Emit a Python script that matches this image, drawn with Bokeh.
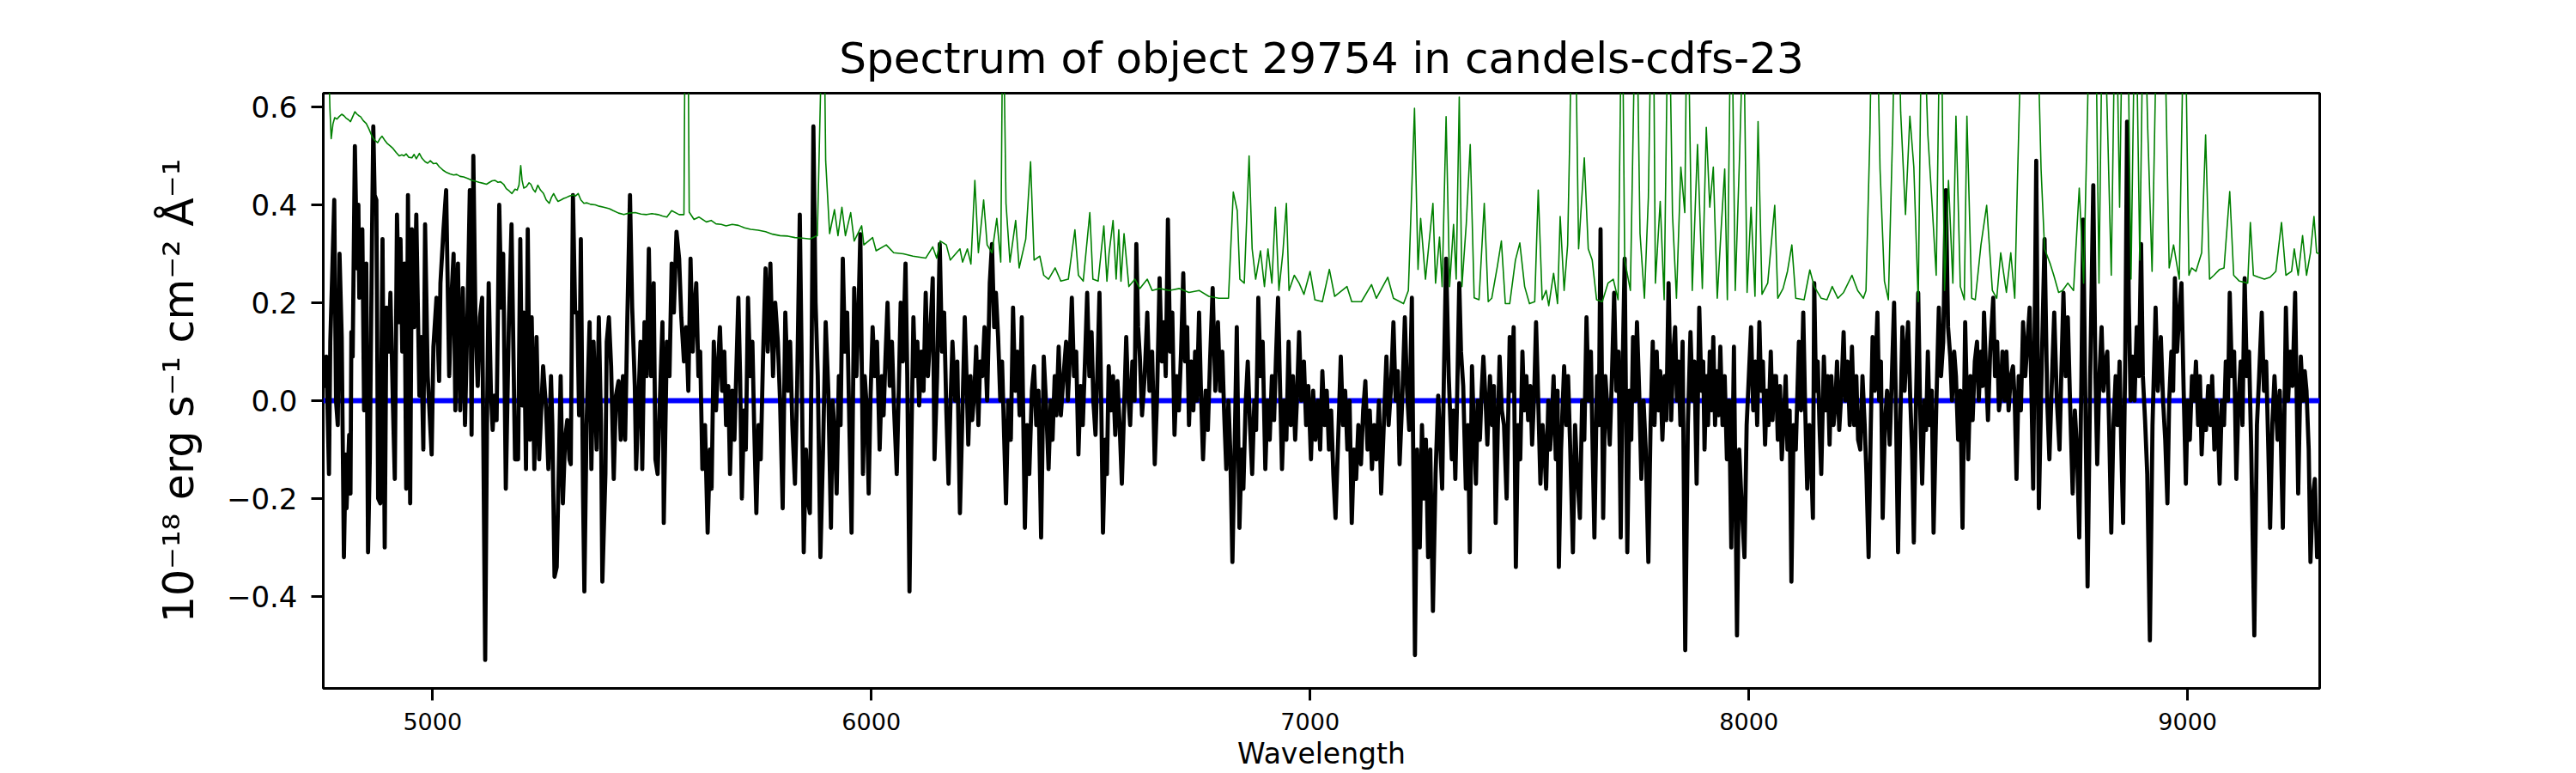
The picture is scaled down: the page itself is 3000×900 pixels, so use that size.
import numpy as np
from bokeh.plotting import figure
from bokeh.models import Range1d, FixedTicker, Span
from bokeh.embed import file_html
from bokeh.resources import INLINE

title_text = "Spectrum of object 29754 in candels-cdfs-23"
x_label = "Wavelength"
y_label = "10⁻¹⁸ erg s⁻¹ cm⁻² Å⁻¹"
x_ticks = [5000, 6000, 7000, 8000, 9000]
y_ticks = [-0.4, -0.2, 0.0, 0.2, 0.4, 0.6]
y_tick_labels = ["−0.4", "−0.2", "0.0", "0.2", "0.4", "0.6"]
x_lim = (4751, 9301)
y_lim = (-0.588, 0.628)
zero_level = 0.0

# observed flux (wavelength, flux)
flux_points = [
    (4751, 0.09), (4754, 0.03), (4758, 0.09), (4764, -0.15), (4767, 0.12), (4776, 0.41), (4780, 0.00),
    (4784, -0.05), (4788, 0.30), (4793, 0.13), (4798, -0.32), (4802, -0.11), (4804, -0.22), (4810, -0.07),
    (4813, -0.19), (4815, 0.14), (4818, 0.09), (4823, 0.52), (4828, 0.27), (4831, 0.40), (4833, 0.21),
    (4836, 0.30), (4840, 0.35), (4844, -0.02), (4849, 0.28), (4853, -0.31), (4857, -0.12), (4862, 0.33),
    (4865, 0.56), (4868, 0.42), (4872, 0.41), (4876, -0.20), (4881, -0.21), (4886, 0.33), (4891, -0.30),
    (4895, 0.19), (4900, 0.10), (4904, 0.22), (4910, -0.02), (4914, -0.16), (4919, 0.38), (4924, 0.16),
    (4927, 0.33), (4931, 0.10), (4936, 0.28), (4940, -0.18), (4944, 0.42), (4949, -0.21), (4953, 0.35),
    (4958, 0.15), (4963, 0.38), (4970, 0.01), (4974, 0.13), (4979, -0.10), (4983, 0.36), (4989, 0.05),
    (4998, -0.11), (5002, 0.11), (5009, 0.21), (5015, 0.04), (5018, 0.24), (5025, 0.35), (5031, 0.43),
    (5038, 0.05), (5043, 0.21), (5048, 0.30), (5052, -0.02), (5058, 0.28), (5063, -0.02), (5069, 0.23),
    (5074, -0.05), (5080, 0.19), (5085, 0.43), (5089, -0.07), (5093, 0.50), (5098, 0.15), (5103, 0.03),
    (5108, 0.17), (5113, 0.21), (5120, -0.53), (5124, -0.05), (5128, 0.24), (5133, 0.02), (5137, -0.06),
    (5141, 0.01), (5146, -0.04), (5152, 0.40), (5157, 0.19), (5161, 0.30), (5167, -0.18), (5174, 0.16),
    (5180, 0.36), (5188, -0.12), (5195, -0.12), (5200, 0.33), (5204, -0.01), (5208, 0.18), (5213, -0.14),
    (5217, 0.35), (5222, -0.08), (5226, 0.17), (5232, -0.14), (5237, 0.13), (5243, -0.12), (5252, 0.07),
    (5259, -0.02), (5264, -0.14), (5270, 0.05), (5273, -0.05), (5278, -0.36), (5283, -0.34), (5287, -0.17),
    (5292, 0.05), (5297, -0.21), (5302, -0.08), (5307, -0.04), (5312, -0.12), (5315, -0.13), (5320, 0.42),
    (5325, 0.18), (5330, 0.18), (5334, -0.03), (5338, 0.33), (5343, -0.19), (5346, -0.39), (5351, -0.05),
    (5358, 0.16), (5362, -0.14), (5367, 0.12), (5374, -0.10), (5379, 0.17), (5384, -0.05), (5387, -0.37),
    (5394, -0.15), (5397, 0.12), (5402, 0.17), (5407, 0.07), (5413, -0.16), (5418, 0.01), (5424, 0.04),
    (5429, -0.08), (5434, 0.05), (5439, -0.08), (5444, 0.17), (5450, 0.42), (5455, 0.19), (5461, 0.03),
    (5464, -0.14), (5469, -0.01), (5474, 0.12), (5478, -0.14), (5483, 0.16), (5488, 0.05), (5493, 0.31),
    (5498, 0.05), (5504, 0.24), (5508, -0.12), (5513, -0.15), (5517, -0.03), (5524, 0.16), (5527, -0.25),
    (5534, 0.12), (5540, 0.05), (5545, 0.28), (5550, 0.18), (5556, 0.345), (5562, 0.29), (5567, 0.17),
    (5573, 0.08), (5578, 0.15), (5583, 0.02), (5588, 0.29), (5593, 0.10), (5597, 0.19), (5601, 0.24),
    (5606, 0.05), (5610, 0.10), (5615, -0.14), (5621, -0.05), (5627, -0.27), (5632, -0.10), (5636, -0.18),
    (5641, 0.12), (5646, -0.02), (5650, 0.06), (5655, 0.15), (5660, 0.02), (5665, 0.10), (5669, -0.05),
    (5674, 0.03), (5678, -0.15), (5683, 0.02), (5688, -0.08), (5692, 0.05), (5697, 0.21), (5701, 0.05),
    (5705, -0.20), (5710, -0.02), (5714, -0.10), (5719, 0.21), (5724, 0.05), (5729, 0.12), (5733, -0.05),
    (5738, -0.23), (5743, -0.05), (5748, -0.12), (5753, 0.08), (5759, 0.27), (5764, 0.10), (5770, 0.28),
    (5776, 0.05), (5781, 0.20), (5787, 0.12), (5792, 0.00), (5798, -0.22), (5804, 0.18), (5810, 0.02),
    (5815, 0.12), (5820, -0.05), (5826, -0.17), (5831, 0.03), (5837, 0.38), (5841, 0.10), (5846, -0.31),
    (5851, -0.10), (5855, -0.20), (5860, -0.23), (5864, 0.10), (5868, 0.56), (5873, 0.20), (5878, 0.05),
    (5884, -0.32), (5890, -0.10), (5896, 0.16), (5902, 0.02), (5908, -0.26), (5912, 0.00), (5917, -0.08),
    (5921, -0.19), (5926, 0.05), (5930, -0.05), (5935, 0.29), (5940, 0.10), (5945, 0.18), (5950, -0.05),
    (5955, -0.27), (5961, 0.23), (5966, 0.05), (5970, 0.15), (5975, 0.34), (5981, -0.15), (5985, 0.05),
    (5990, -0.02), (5994, -0.19), (5998, 0.00), (6003, 0.15), (6008, 0.05), (6013, 0.12), (6019, -0.10),
    (6024, 0.05), (6028, -0.03), (6032, 0.08), (6037, 0.20), (6042, 0.03), (6047, 0.12), (6052, -0.02),
    (6058, -0.15), (6062, 0.00), (6067, 0.20), (6072, 0.08), (6078, 0.28), (6082, 0.05), (6087, -0.39),
    (6091, -0.10), (6096, 0.17), (6100, 0.05), (6105, 0.12), (6109, -0.01), (6114, 0.10), (6119, 0.02),
    (6124, 0.22), (6129, 0.05), (6134, 0.13), (6140, 0.25), (6144, -0.12), (6150, 0.05), (6156, 0.32),
    (6161, 0.10), (6166, 0.18), (6171, -0.02), (6176, -0.17), (6180, -0.02), (6185, 0.12), (6191, 0.00),
    (6196, 0.08), (6202, -0.23), (6207, -0.05), (6213, 0.17), (6217, 0.05), (6221, -0.09), (6226, 0.05),
    (6230, -0.04), (6235, 0.02), (6239, 0.11), (6244, -0.05), (6248, 0.08), (6253, 0.05), (6258, 0.15),
    (6264, 0.00), (6270, 0.24), (6275, 0.32), (6280, 0.15), (6284, 0.22), (6289, 0.13), (6294, 0.00),
    (6298, 0.08), (6302, -0.05), (6307, -0.21), (6312, 0.00), (6318, -0.08), (6323, 0.19), (6328, 0.02),
    (6333, 0.10), (6338, -0.03), (6343, 0.17), (6350, -0.26), (6355, -0.05), (6360, -0.15), (6366, 0.02),
    (6371, 0.07), (6376, -0.05), (6381, 0.02), (6387, -0.28), (6393, 0.09), (6398, 0.00), (6404, -0.14),
    (6409, 0.00), (6413, -0.08), (6418, 0.05), (6422, -0.03), (6427, 0.11), (6432, -0.03), (6438, 0.05),
    (6444, 0.12), (6448, 0.00), (6452, 0.08), (6457, 0.21), (6462, 0.05), (6467, 0.10), (6472, -0.11),
    (6477, 0.03), (6482, -0.05), (6487, 0.08), (6492, 0.22), (6497, 0.05), (6502, 0.14), (6506, 0.00),
    (6511, -0.07), (6515, 0.05), (6520, 0.22), (6524, 0.00), (6528, -0.27), (6533, -0.08), (6537, -0.15),
    (6541, 0.07), (6546, -0.02), (6551, 0.05), (6556, -0.07), (6561, 0.04), (6566, -0.05), (6571, -0.17),
    (6576, -0.02), (6581, 0.13), (6585, 0.02), (6590, -0.05), (6595, 0.08), (6600, 0.00), (6604, 0.32),
    (6608, 0.15), (6612, 0.09), (6617, -0.03), (6623, 0.05), (6629, 0.18), (6634, 0.02), (6640, 0.10),
    (6646, -0.13), (6651, 0.00), (6657, 0.25), (6662, 0.08), (6667, 0.16), (6671, 0.05), (6676, 0.37),
    (6681, 0.10), (6686, 0.18), (6691, -0.07), (6696, 0.05), (6701, -0.02), (6706, 0.10), (6711, 0.26),
    (6715, 0.08), (6720, 0.15), (6724, -0.05), (6729, 0.08), (6734, -0.02), (6738, 0.10), (6742, 0.00),
    (6747, 0.18), (6751, 0.03), (6756, -0.12), (6762, 0.02), (6767, -0.06), (6772, 0.08), (6778, 0.23),
    (6784, 0.02), (6790, 0.16), (6795, 0.02), (6800, 0.10), (6804, -0.02), (6809, -0.14), (6814, 0.00),
    (6818, -0.10), (6823, -0.33), (6828, -0.10), (6833, 0.15), (6839, -0.26), (6844, -0.10), (6848, -0.18),
    (6853, -0.01), (6858, 0.08), (6863, -0.05), (6868, -0.15), (6873, 0.00), (6877, -0.06), (6882, 0.21),
    (6887, 0.05), (6892, 0.12), (6898, -0.14), (6903, 0.00), (6908, -0.08), (6913, 0.05), (6918, -0.04),
    (6922, 0.08), (6927, 0.21), (6931, 0.05), (6936, -0.14), (6941, 0.00), (6946, -0.08), (6951, 0.12),
    (6956, -0.05), (6961, 0.05), (6966, -0.08), (6970, 0.00), (6975, 0.14), (6980, 0.00), (6986, 0.08),
    (6991, -0.05), (6996, 0.03), (7002, -0.12), (7007, 0.02), (7012, -0.08), (7018, 0.00), (7023, -0.10),
    (7028, 0.06), (7033, -0.05), (7038, 0.02), (7043, -0.10), (7048, -0.02), (7053, -0.15), (7058, -0.24),
    (7064, -0.08), (7070, 0.09), (7075, -0.05), (7080, 0.02), (7085, -0.10), (7090, 0.00), (7095, -0.25),
    (7100, -0.10), (7105, -0.16), (7110, -0.05), (7116, -0.13), (7121, -0.02), (7126, 0.04), (7131, -0.10),
    (7136, -0.02), (7141, -0.14), (7146, -0.05), (7151, -0.12), (7157, 0.00), (7162, -0.19), (7168, -0.05),
    (7174, 0.09), (7179, -0.05), (7184, 0.02), (7190, 0.16), (7195, 0.00), (7200, 0.06), (7204, -0.13),
    (7210, 0.00), (7216, 0.17), (7221, 0.02), (7226, -0.06), (7232, 0.21), (7239, -0.52), (7244, -0.10),
    (7250, -0.30), (7255, -0.05), (7260, -0.20), (7264, -0.08), (7269, -0.32), (7274, -0.10), (7280, -0.43),
    (7286, -0.15), (7292, 0.01), (7301, -0.18), (7305, 0.05), (7310, 0.29), (7316, 0.05), (7323, -0.12),
    (7327, -0.02), (7331, -0.16), (7335, 0.00), (7340, 0.24), (7344, 0.10), (7349, 0.03), (7355, -0.18),
    (7360, -0.05), (7364, -0.31), (7369, 0.07), (7373, -0.05), (7378, -0.17), (7382, 0.00), (7387, -0.08),
    (7391, 0.02), (7395, 0.09), (7400, 0.00), (7404, -0.09), (7410, 0.05), (7415, -0.05), (7419, 0.03),
    (7423, -0.25), (7428, -0.05), (7432, 0.09), (7437, -0.02), (7442, -0.05), (7448, -0.20), (7455, 0.13),
    (7459, 0.02), (7464, 0.15), (7469, -0.34), (7474, -0.05), (7479, -0.12), (7484, 0.10), (7488, -0.02),
    (7493, 0.05), (7497, -0.04), (7502, 0.03), (7506, -0.09), (7511, 0.02), (7515, 0.16), (7520, 0.00),
    (7525, -0.17), (7530, -0.05), (7534, -0.10), (7538, -0.18), (7543, 0.00), (7547, -0.10), (7551, -0.04),
    (7555, 0.05), (7560, -0.12), (7564, 0.02), (7567, -0.34), (7572, -0.10), (7579, 0.07), (7584, -0.05),
    (7588, 0.05), (7593, -0.10), (7599, -0.31), (7604, -0.05), (7609, -0.15), (7615, -0.24), (7620, 0.00),
    (7625, -0.08), (7630, 0.17), (7635, 0.00), (7640, 0.10), (7644, -0.10), (7648, -0.28), (7654, 0.05),
    (7658, -0.05), (7662, 0.35), (7668, -0.24), (7673, 0.05), (7678, -0.02), (7683, -0.09), (7688, 0.05),
    (7693, 0.22), (7698, 0.02), (7703, 0.10), (7708, -0.28), (7712, 0.05), (7717, 0.29), (7723, -0.31),
    (7728, 0.02), (7732, -0.08), (7736, 0.13), (7741, 0.00), (7745, 0.16), (7750, 0.02), (7755, -0.16),
    (7760, 0.00), (7765, -0.10), (7771, -0.33), (7776, -0.05), (7781, 0.12), (7785, -0.05), (7790, 0.10),
    (7794, -0.02), (7798, 0.06), (7803, -0.08), (7808, 0.05), (7812, -0.04), (7817, 0.24), (7823, -0.04),
    (7828, 0.10), (7832, 0.15), (7836, 0.00), (7840, 0.08), (7844, -0.05), (7849, 0.12), (7855, -0.51),
    (7861, -0.05), (7867, 0.14), (7872, 0.00), (7876, 0.08), (7881, -0.17), (7887, 0.19), (7892, 0.02),
    (7896, 0.08), (7899, -0.10), (7903, 0.05), (7907, -0.05), (7911, 0.10), (7915, -0.02), (7919, 0.13),
    (7923, -0.05), (7927, 0.06), (7931, -0.03), (7935, 0.11), (7940, -0.05), (7945, 0.05), (7950, -0.12),
    (7955, 0.00), (7960, -0.30), (7966, 0.11), (7973, -0.48), (7978, -0.10), (7983, -0.20), (7990, -0.32),
    (7995, -0.05), (8000, 0.05), (8005, 0.15), (8010, -0.02), (8015, 0.08), (8019, -0.05), (8024, 0.16),
    (8028, 0.02), (8032, 0.08), (8037, -0.09), (8041, 0.02), (8045, -0.05), (8050, 0.10), (8054, -0.04),
    (8058, 0.05), (8062, 0.05), (8066, -0.08), (8071, 0.03), (8075, -0.12), (8079, -0.05), (8084, 0.05),
    (8088, -0.10), (8093, -0.02), (8097, -0.37), (8102, -0.05), (8107, -0.10), (8114, 0.12), (8119, -0.02),
    (8124, 0.18), (8128, 0.00), (8133, -0.18), (8138, -0.05), (8142, -0.12), (8146, -0.24), (8149, 0.24),
    (8153, 0.02), (8157, 0.08), (8161, -0.05), (8165, -0.15), (8171, 0.09), (8175, -0.02), (8180, 0.05),
    (8184, -0.09), (8188, 0.05), (8193, -0.05), (8197, -0.01), (8201, 0.08), (8206, -0.06), (8211, 0.02),
    (8216, 0.14), (8220, 0.00), (8225, 0.08), (8230, -0.05), (8235, 0.11), (8240, -0.05), (8245, 0.05),
    (8249, -0.08), (8254, -0.10), (8259, 0.05), (8264, -0.05), (8268, -0.15), (8273, -0.32), (8278, -0.05),
    (8282, 0.13), (8287, 0.02), (8293, 0.18), (8297, 0.00), (8301, 0.08), (8305, -0.24), (8310, -0.05),
    (8315, 0.02), (8321, -0.09), (8326, 0.05), (8331, 0.20), (8335, 0.00), (8340, -0.31), (8345, -0.05),
    (8350, 0.15), (8355, 0.02), (8359, 0.10), (8363, 0.16), (8368, 0.00), (8372, -0.10), (8376, -0.29),
    (8381, 0.00), (8386, 0.22), (8390, 0.00), (8395, -0.17), (8400, 0.00), (8404, -0.06), (8408, 0.10),
    (8412, -0.05), (8417, 0.02), (8421, -0.27), (8427, -0.02), (8433, 0.19), (8438, 0.05), (8443, 0.12),
    (8449, 0.43), (8454, 0.15), (8459, 0.09), (8463, 0.00), (8468, 0.10), (8472, 0.05), (8477, -0.08),
    (8482, 0.02), (8487, -0.26), (8493, 0.16), (8500, -0.12), (8505, 0.05), (8510, -0.04), (8515, 0.08),
    (8520, 0.12), (8524, 0.00), (8529, 0.10), (8533, 0.03), (8536, 0.18), (8541, 0.05), (8545, -0.04),
    (8550, 0.10), (8557, 0.21), (8561, 0.05), (8566, 0.12), (8570, -0.02), (8574, 0.01), (8578, 0.10),
    (8583, 0.00), (8587, 0.10), (8592, -0.02), (8597, 0.05), (8602, 0.07), (8606, 0.00), (8610, -0.16),
    (8615, 0.05), (8620, -0.02), (8625, 0.16), (8630, 0.05), (8635, 0.12), (8640, 0.19), (8644, 0.02),
    (8648, -0.18), (8655, 0.49), (8661, -0.22), (8667, 0.05), (8674, 0.33), (8680, 0.00), (8685, -0.12),
    (8691, 0.05), (8696, 0.18), (8702, 0.00), (8708, -0.10), (8712, 0.05), (8717, 0.22), (8722, 0.05),
    (8727, 0.17), (8732, 0.00), (8738, -0.19), (8743, -0.02), (8748, -0.10), (8753, -0.28), (8758, 0.05),
    (8762, 0.37), (8767, 0.00), (8772, -0.38), (8778, 0.05), (8785, 0.44), (8790, 0.05), (8794, -0.13),
    (8799, 0.05), (8804, 0.15), (8808, 0.02), (8813, 0.08), (8817, 0.10), (8821, -0.05), (8826, -0.27),
    (8831, -0.05), (8836, 0.05), (8840, -0.05), (8845, 0.08), (8849, -0.10), (8853, -0.25), (8858, 0.10),
    (8862, 0.57), (8866, 0.20), (8870, 0.00), (8875, 0.09), (8879, 0.00), (8884, 0.15), (8889, 0.05),
    (8894, 0.32), (8898, 0.05), (8903, -0.04), (8908, -0.15), (8914, -0.49), (8920, -0.05), (8927, 0.19),
    (8932, 0.02), (8939, 0.13), (8944, 0.00), (8949, -0.08), (8954, -0.21), (8958, 0.00), (8963, 0.10),
    (8967, 0.02), (8971, 0.25), (8976, 0.10), (8981, 0.18), (8986, 0.24), (8991, 0.02), (8996, -0.17),
    (9000, 0.00), (9005, -0.08), (9010, 0.05), (9015, 0.00), (9019, 0.08), (9024, -0.05), (9028, 0.05),
    (9032, -0.11), (9037, 0.00), (9042, -0.06), (9047, 0.03), (9052, -0.05), (9056, 0.05), (9061, -0.10),
    (9066, 0.00), (9070, -0.08), (9073, -0.17), (9078, 0.00), (9083, -0.05), (9087, 0.08), (9092, 0.00),
    (9096, 0.22), (9101, 0.05), (9106, 0.10), (9111, -0.16), (9116, 0.00), (9121, 0.08), (9125, -0.05),
    (9130, 0.25), (9135, 0.05), (9140, 0.10), (9145, -0.10), (9152, -0.48), (9158, -0.05), (9163, 0.05),
    (9169, 0.18), (9174, 0.02), (9179, 0.08), (9184, -0.10), (9188, -0.26), (9193, -0.05), (9198, 0.05),
    (9205, -0.08), (9210, 0.02), (9217, -0.26), (9224, 0.19), (9229, 0.00), (9234, 0.10), (9239, 0.03),
    (9245, 0.22), (9252, -0.19), (9258, 0.09), (9263, 0.00), (9267, 0.06), (9271, 0.02), (9276, -0.10),
    (9280, -0.33), (9285, -0.20), (9290, -0.16), (9295, -0.32), (9300, -0.30),
]

# noise / sky spectrum (wavelength, sigma)
error_points = [
    (4751, 0.80), (4756, 0.78), (4762, 0.74), (4766, 0.60), (4769, 0.535), (4773, 0.565), (4777, 0.578),
    (4782, 0.575), (4787, 0.58), (4793, 0.585), (4798, 0.582), (4803, 0.577), (4808, 0.574), (4813, 0.57),
    (4818, 0.58), (4823, 0.59), (4828, 0.585), (4832, 0.582), (4836, 0.58), (4842, 0.572), (4849, 0.566),
    (4855, 0.555), (4862, 0.54), (4868, 0.532), (4875, 0.527), (4880, 0.535), (4885, 0.54), (4891, 0.532),
    (4897, 0.525), (4904, 0.52), (4910, 0.515), (4917, 0.507), (4924, 0.50), (4930, 0.502), (4935, 0.50),
    (4940, 0.504), (4946, 0.497), (4953, 0.496), (4958, 0.503), (4963, 0.494), (4970, 0.505), (4976, 0.495),
    (4983, 0.488), (4989, 0.485), (4995, 0.49), (5002, 0.484), (5009, 0.485), (5015, 0.478), (5020, 0.474),
    (5025, 0.47), (5032, 0.466), (5040, 0.463), (5048, 0.461), (5055, 0.462), (5063, 0.458), (5071, 0.457),
    (5080, 0.454), (5090, 0.45), (5098, 0.448), (5106, 0.446), (5115, 0.444), (5123, 0.442), (5130, 0.446),
    (5136, 0.449), (5142, 0.45), (5149, 0.446), (5155, 0.447), (5162, 0.442), (5168, 0.433), (5175, 0.428),
    (5181, 0.423), (5188, 0.432), (5193, 0.43), (5197, 0.44), (5201, 0.48), (5204, 0.45), (5208, 0.434),
    (5214, 0.437), (5220, 0.445), (5224, 0.442), (5229, 0.432), (5234, 0.426), (5240, 0.44), (5246, 0.43),
    (5253, 0.423), (5259, 0.41), (5266, 0.403), (5271, 0.415), (5276, 0.423), (5281, 0.414), (5286, 0.407),
    (5293, 0.41), (5299, 0.413), (5305, 0.415), (5312, 0.418), (5320, 0.42), (5326, 0.418), (5332, 0.423),
    (5338, 0.41), (5345, 0.403), (5352, 0.404), (5360, 0.401), (5371, 0.40), (5380, 0.397), (5390, 0.395),
    (5403, 0.392), (5412, 0.388), (5424, 0.383), (5436, 0.38), (5448, 0.383), (5462, 0.384), (5475, 0.381),
    (5488, 0.38), (5500, 0.382), (5514, 0.38), (5524, 0.377), (5534, 0.375), (5545, 0.388), (5562, 0.38),
    (5573, 0.38), (5577, 1.00), (5581, 0.95), (5585, 0.385), (5596, 0.37), (5607, 0.375), (5624, 0.365),
    (5635, 0.368), (5646, 0.361), (5658, 0.36), (5669, 0.357), (5683, 0.36), (5697, 0.358), (5711, 0.353),
    (5725, 0.35), (5742, 0.348), (5759, 0.345), (5775, 0.34), (5792, 0.337), (5810, 0.336), (5826, 0.333),
    (5843, 0.332), (5860, 0.33), (5877, 0.337), (5891, 0.90), (5896, 0.49), (5905, 0.341), (5916, 0.39),
    (5924, 0.337), (5933, 0.395), (5941, 0.337), (5953, 0.384), (5961, 0.326), (5978, 0.357), (5983, 0.318),
    (6003, 0.333), (6011, 0.306), (6034, 0.318), (6051, 0.302), (6073, 0.30), (6095, 0.295), (6124, 0.291),
    (6140, 0.314), (6149, 0.291), (6157, 0.326), (6171, 0.318), (6180, 0.287), (6202, 0.31), (6208, 0.283),
    (6219, 0.31), (6227, 0.279), (6236, 0.45), (6244, 0.302), (6256, 0.41), (6264, 0.318), (6275, 0.302),
    (6286, 0.372), (6295, 0.283), (6300, 0.85), (6307, 0.403), (6316, 0.283), (6329, 0.368), (6337, 0.271),
    (6352, 0.33), (6363, 0.488), (6371, 0.287), (6384, 0.295), (6393, 0.256), (6404, 0.248), (6419, 0.271),
    (6432, 0.244), (6449, 0.248), (6464, 0.349), (6472, 0.256), (6483, 0.244), (6498, 0.384), (6505, 0.248),
    (6517, 0.244), (6530, 0.357), (6537, 0.244), (6542, 0.302), (6551, 0.368), (6558, 0.248), (6564, 0.349),
    (6569, 0.244), (6576, 0.341), (6587, 0.233), (6601, 0.248), (6612, 0.229), (6629, 0.248), (6640, 0.225),
    (6657, 0.229), (6679, 0.225), (6702, 0.229), (6724, 0.221), (6747, 0.225), (6769, 0.213), (6792, 0.209),
    (6814, 0.209), (6825, 0.426), (6834, 0.388), (6840, 0.248), (6850, 0.24), (6861, 0.50), (6868, 0.31),
    (6876, 0.248), (6887, 0.306), (6896, 0.233), (6904, 0.31), (6913, 0.24), (6921, 0.395), (6929, 0.225),
    (6938, 0.302), (6946, 0.403), (6952, 0.225), (6964, 0.256), (6975, 0.24), (6986, 0.217), (7000, 0.264),
    (7011, 0.206), (7028, 0.202), (7044, 0.268), (7056, 0.213), (7073, 0.225), (7084, 0.233), (7095, 0.202),
    (7117, 0.202), (7140, 0.237), (7151, 0.209), (7177, 0.252), (7190, 0.209), (7213, 0.198), (7224, 0.225),
    (7238, 0.597), (7246, 0.268), (7252, 0.372), (7263, 0.248), (7280, 0.403), (7286, 0.24), (7295, 0.334),
    (7301, 0.233), (7310, 0.58), (7318, 0.233), (7327, 0.36), (7333, 0.248), (7340, 0.62), (7346, 0.233),
    (7356, 0.361), (7365, 0.523), (7374, 0.21), (7385, 0.206), (7397, 0.403), (7406, 0.202), (7414, 0.209),
    (7427, 0.275), (7436, 0.326), (7445, 0.198), (7455, 0.198), (7468, 0.287), (7478, 0.322), (7489, 0.233),
    (7500, 0.198), (7512, 0.202), (7520, 0.43), (7529, 0.206), (7538, 0.225), (7544, 0.194), (7555, 0.26),
    (7564, 0.198), (7570, 0.376), (7579, 0.225), (7587, 0.318), (7592, 0.543), (7598, 0.90), (7606, 0.70),
    (7612, 0.31), (7625, 0.496), (7634, 0.31), (7643, 0.287), (7653, 0.206), (7666, 0.202), (7679, 0.24),
    (7691, 0.248), (7702, 0.206), (7711, 0.90), (7717, 0.287), (7730, 0.225), (7743, 0.90), (7752, 0.341),
    (7762, 0.209), (7771, 0.415), (7781, 1.00), (7787, 0.24), (7798, 0.407), (7807, 0.206), (7817, 0.90),
    (7826, 0.38), (7835, 0.209), (7845, 0.477), (7854, 0.384), (7860, 0.90), (7871, 0.225), (7883, 0.523),
    (7894, 0.229), (7903, 0.558), (7911, 0.395), (7919, 0.477), (7928, 0.209), (7937, 0.353), (7945, 0.473),
    (7951, 0.206), (7960, 0.90), (7969, 0.225), (7979, 0.504), (7988, 0.80), (7996, 0.221), (8005, 0.395),
    (8014, 0.213), (8021, 0.57), (8030, 0.217), (8043, 0.24), (8059, 0.399), (8066, 0.209), (8078, 0.229),
    (8088, 0.264), (8098, 0.318), (8107, 0.209), (8126, 0.206), (8139, 0.267), (8149, 0.233), (8165, 0.209),
    (8178, 0.206), (8190, 0.233), (8203, 0.209), (8216, 0.221), (8235, 0.256), (8248, 0.225), (8261, 0.209),
    (8267, 0.225), (8276, 0.547), (8282, 0.90), (8290, 0.90), (8299, 0.473), (8309, 0.244), (8318, 0.206),
    (8328, 0.558), (8337, 1.00), (8346, 0.59), (8357, 0.38), (8367, 0.581), (8376, 0.477), (8386, 0.202),
    (8395, 0.90), (8408, 0.543), (8418, 0.395), (8427, 0.256), (8437, 0.90), (8446, 0.225), (8455, 0.45),
    (8465, 0.24), (8472, 0.581), (8482, 0.233), (8491, 0.206), (8497, 0.581), (8508, 0.209), (8516, 0.206),
    (8529, 0.318), (8542, 0.399), (8555, 0.225), (8565, 0.209), (8574, 0.302), (8587, 0.221), (8597, 0.302),
    (8606, 0.209), (8612, 0.442), (8625, 0.90), (8638, 0.75), (8648, 0.90), (8657, 0.80), (8666, 0.473),
    (8674, 0.31), (8687, 0.279), (8695, 0.256), (8706, 0.221), (8715, 0.225), (8727, 0.24), (8740, 0.225),
    (8753, 0.434), (8763, 0.24), (8772, 0.597), (8779, 0.90), (8789, 0.90), (8798, 0.24), (8807, 0.90),
    (8817, 0.581), (8826, 0.256), (8836, 0.90), (8845, 0.395), (8853, 0.90), (8862, 0.90), (8871, 0.248),
    (8881, 0.90), (8891, 0.287), (8900, 0.90), (8909, 0.558), (8919, 0.264), (8932, 0.90), (8945, 0.90),
    (8958, 0.271), (8968, 0.318), (8981, 0.248), (8993, 0.90), (9003, 0.256), (9009, 0.271), (9019, 0.264),
    (9032, 0.302), (9041, 0.543), (9050, 0.248), (9060, 0.256), (9073, 0.268), (9083, 0.271), (9096, 0.427),
    (9105, 0.256), (9118, 0.244), (9137, 0.24), (9143, 0.364), (9150, 0.256), (9162, 0.252), (9175, 0.248),
    (9188, 0.252), (9201, 0.264), (9214, 0.364), (9224, 0.256), (9237, 0.264), (9243, 0.31), (9252, 0.256),
    (9262, 0.337), (9271, 0.256), (9280, 0.302), (9288, 0.376), (9294, 0.302), (9300, 0.30),
]

flux_wave, flux = (np.array(v) for v in zip(*flux_points))
err_wave, err = (np.array(v) for v in zip(*error_points))

FONT = "DejaVu Sans"

p = figure(frame_width=2325, frame_height=693,
           min_border_left=376, min_border_top=108, min_border_right=40, min_border_bottom=91,
           x_range=Range1d(*x_lim), y_range=Range1d(*y_lim),
           output_backend="svg", toolbar_location=None, title=title_text)

p.title.text_font = FONT
p.title.text_font_size = "50px"
p.title.text_font_style = "normal"
p.title.text_color = "black"
p.title.align = "center"
p.title.standoff = 23

p.background_fill_color = "white"
p.border_fill_color = "white"
p.outline_line_color = "black"
p.outline_line_width = 3
p.grid.visible = False

p.add_layout(Span(location=zero_level, dimension="width", line_color="blue",
                  line_width=6, level="underlay"))
p.line(flux_wave, flux, line_color="black", line_width=4.8, line_join="round")
p.line(err_wave, err, line_color="green", line_width=1.6, line_join="round")

for ax in (p.xaxis[0], p.yaxis[0]):
    ax.axis_line_color = None
    ax.major_tick_line_color = "black"
    ax.major_tick_line_width = 3
    ax.major_tick_out = 14
    ax.major_tick_in = 0
    ax.minor_tick_line_color = None
    ax.major_label_text_font = FONT
    ax.major_label_text_color = "black"
    ax.axis_label_text_font = FONT
    ax.axis_label_text_font_style = "normal"
    ax.axis_label_text_color = "black"

p.xaxis.ticker = FixedTicker(ticks=x_ticks)
p.xaxis.major_label_text_font_size = "27px"
p.xaxis.major_label_standoff = 14
p.xaxis.axis_label = x_label
p.xaxis.axis_label_text_font_size = "33px"
p.xaxis.axis_label_standoff = 5

p.yaxis.ticker = FixedTicker(ticks=y_ticks)
p.yaxis.major_label_overrides = dict(zip(y_ticks, y_tick_labels))
p.yaxis.major_label_text_font_size = "34px"
p.yaxis.major_label_standoff = 16
p.yaxis.axis_label = y_label
p.yaxis.axis_label_text_font_size = "49px"
p.yaxis.axis_label_standoff = 24

open("out.html", "w").write(file_html(p, INLINE))
